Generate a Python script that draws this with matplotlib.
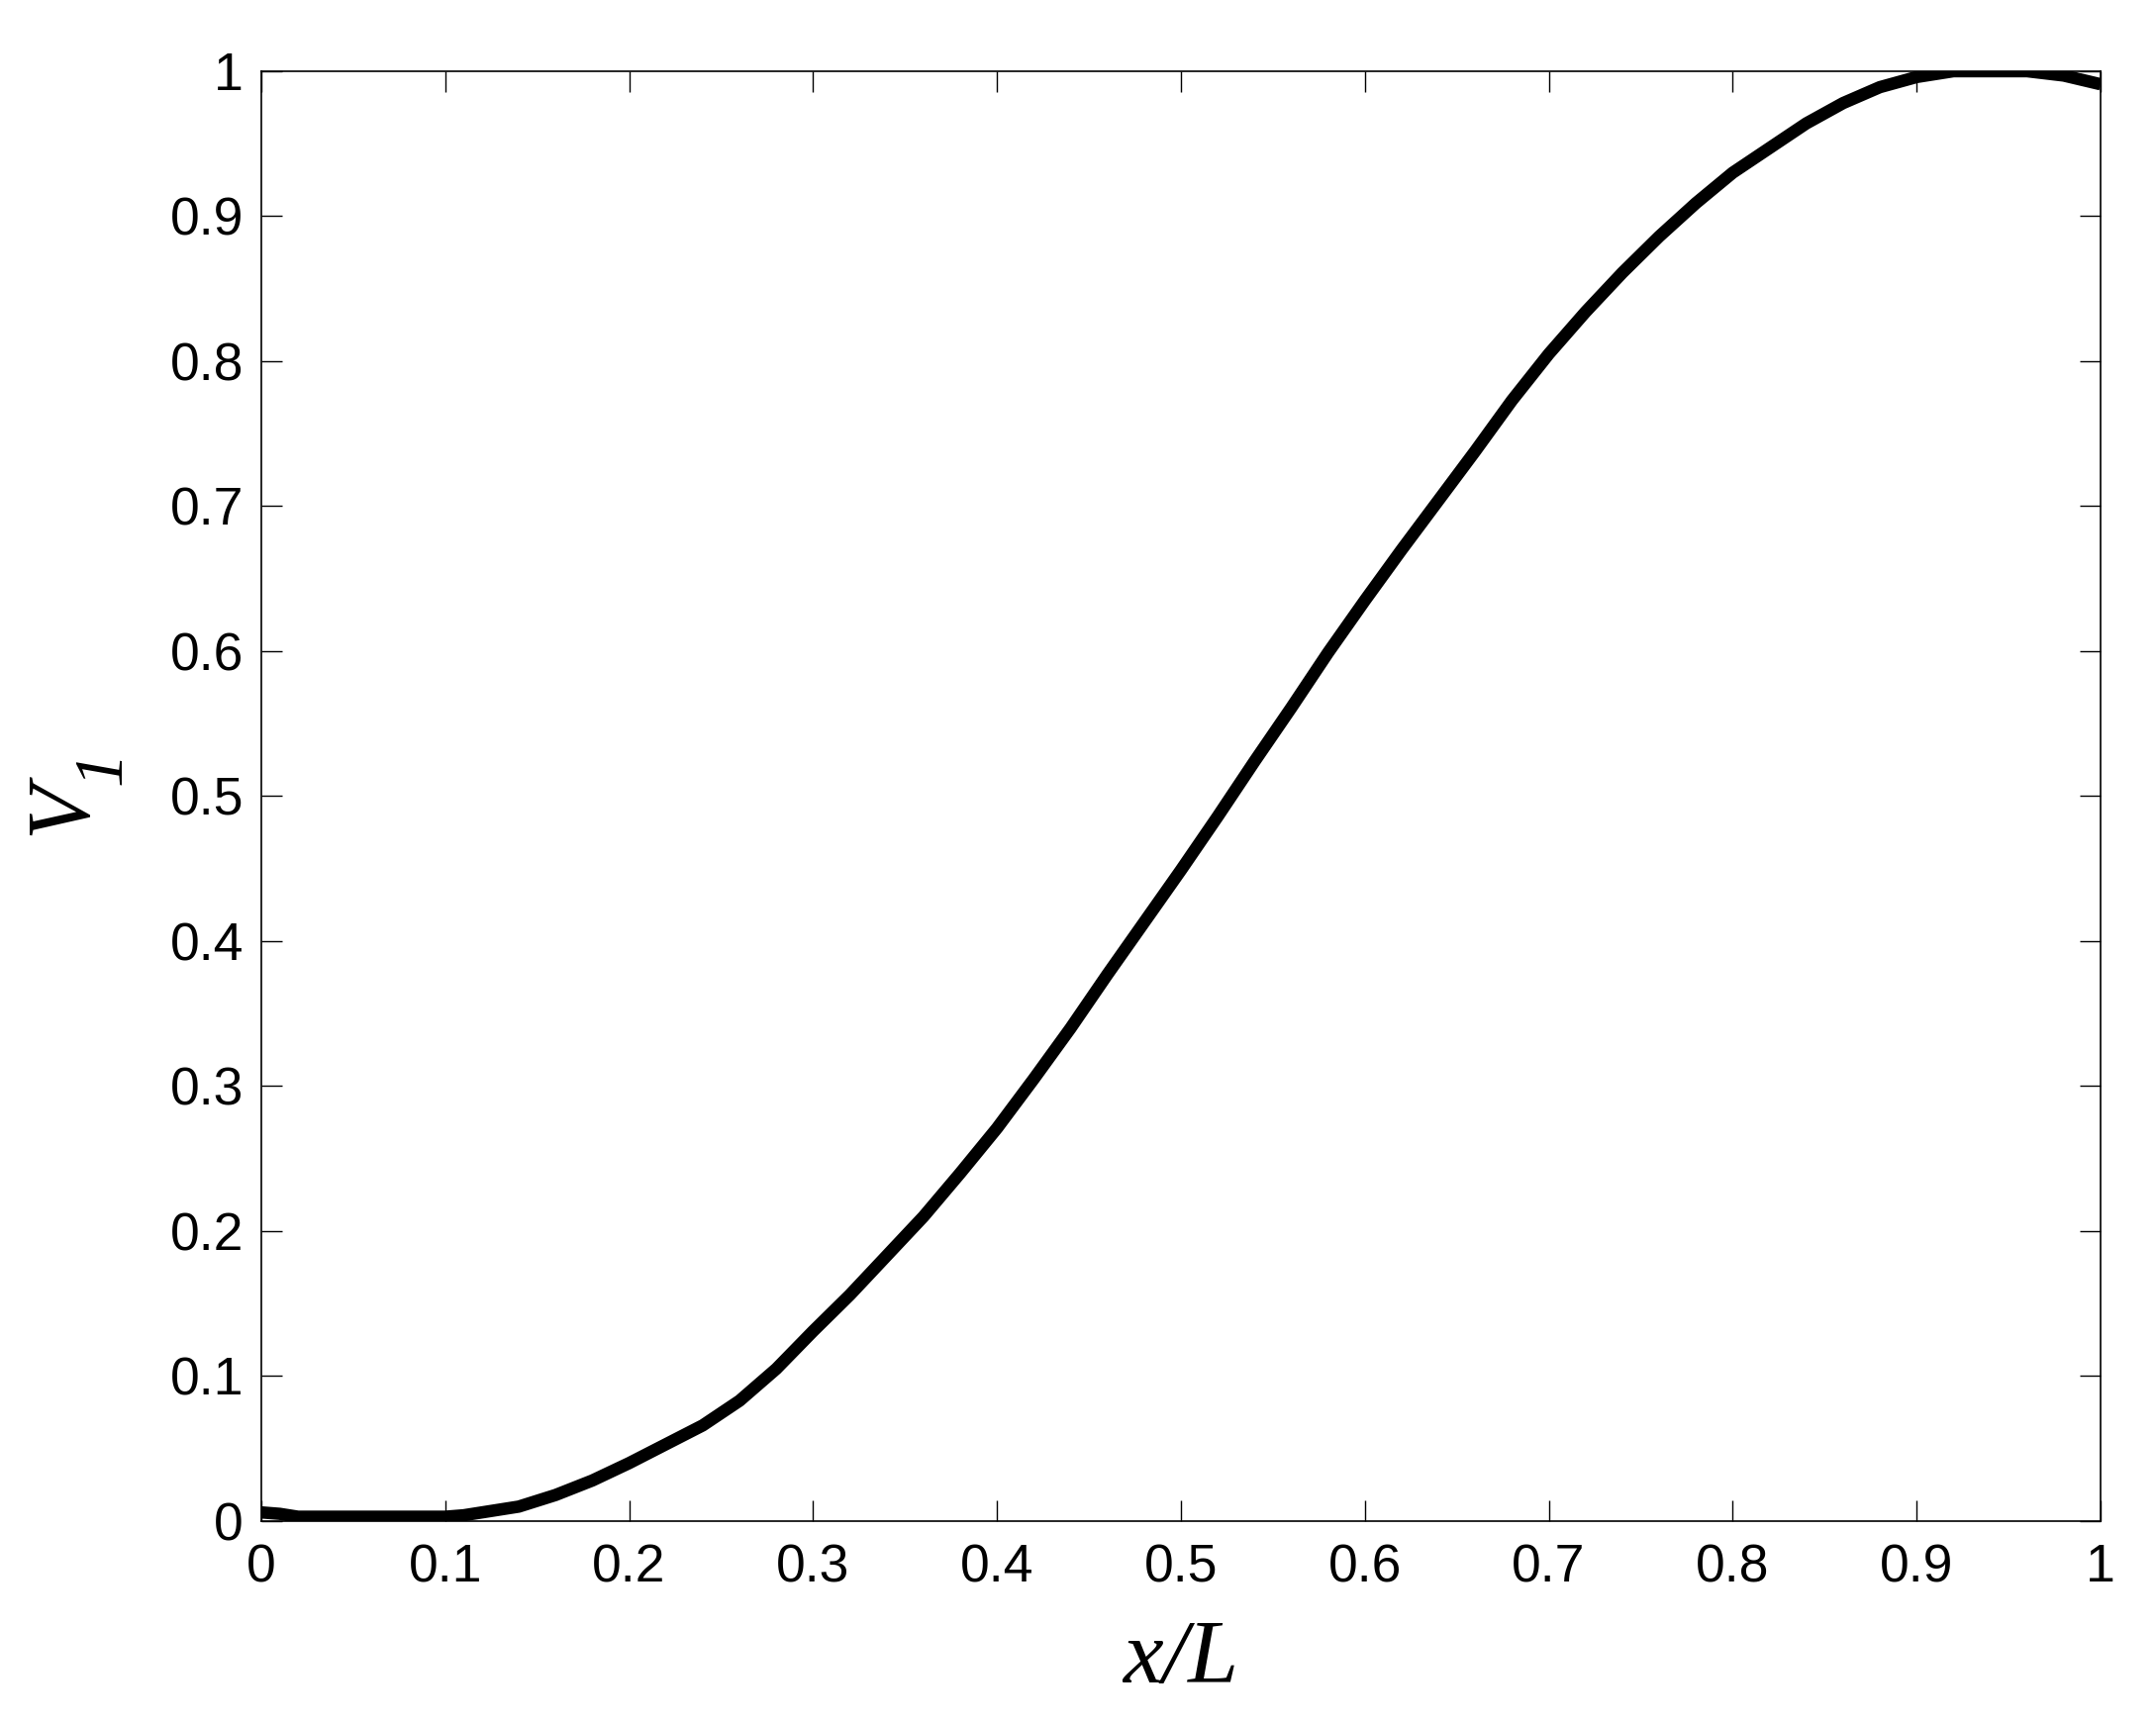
import matplotlib
matplotlib.use("Agg")
import matplotlib.pyplot as plt
from matplotlib.ticker import FixedLocator, FuncFormatter

# Data
x_vals = [0.0, 0.01, 0.02, 0.04, 0.06, 0.08, 0.10, 0.11, 0.12, 0.13, 0.14, 0.15, 0.16, 0.18,
          0.20, 0.22, 0.24, 0.26, 0.28, 0.30, 0.32, 0.34, 0.36, 0.38, 0.40,
          0.42, 0.44, 0.46, 0.48, 0.50, 0.52, 0.54, 0.56, 0.58, 0.60,
          0.62, 0.64, 0.66, 0.68, 0.70, 0.72, 0.74, 0.76, 0.78, 0.80,
          0.82, 0.84, 0.86, 0.88, 0.90, 0.92, 0.94, 0.96, 0.98, 1.00]
v1_vals = [0.006, 0.005, 0.003, 0.003, 0.003, 0.003, 0.003, 0.004, 0.006, 0.008, 0.010, 0.014, 0.018, 0.028,
           0.040, 0.053, 0.066, 0.083, 0.105, 0.131, 0.156, 0.183, 0.210, 0.240, 0.271,
           0.305, 0.340, 0.377, 0.413, 0.449, 0.486, 0.524, 0.561, 0.599, 0.635,
           0.670, 0.704, 0.738, 0.773, 0.805, 0.834, 0.861, 0.886, 0.909, 0.930,
           0.947, 0.964, 0.978, 0.989, 0.996, 1.000, 1.000, 1.000, 0.997, 0.991]

x_ticks = [0, 0.1, 0.2, 0.3, 0.4, 0.5, 0.6, 0.7, 0.8, 0.9, 1]
y_ticks = [0, 0.1, 0.2, 0.3, 0.4, 0.5, 0.6, 0.7, 0.8, 0.9, 1]
x_label = 'x/L'
y_label_main = 'V'
y_label_sub = '1'

fig = plt.figure(figsize=(21.78, 17.42), dpi=100)
ax = fig.add_axes([0.1212, 0.1177, 0.9743 - 0.1212, 0.9587 - 0.1177])

ax.plot(x_vals, v1_vals, color='black', linewidth=9, solid_joinstyle='round',
        solid_capstyle='butt', zorder=3)

ax.set_xlim(0, 1)
ax.set_ylim(0, 1)
fmt = FuncFormatter(lambda v, p: f"{v:g}")
ax.xaxis.set_major_locator(FixedLocator(x_ticks))
ax.yaxis.set_major_locator(FixedLocator(y_ticks))
ax.xaxis.set_major_formatter(fmt)
ax.yaxis.set_major_formatter(fmt)

ax.tick_params(direction='in', length=15, width=1.0, top=True, right=True,
               labelsize=38.5, colors='black')
ax.tick_params(axis='x', pad=16)
ax.tick_params(axis='y', pad=13)
for lbl in ax.get_xticklabels() + ax.get_yticklabels():
    lbl.set_fontfamily('Liberation Sans')
for s in ax.spines.values():
    s.set_linewidth(1.2)

ax.set_xlabel(x_label, fontsize=66, family='Liberation Serif', style='italic', labelpad=20)

# y label: italic V with a lowered italic subscript 1
ax.set_ylabel(y_label_main, fontsize=65, family='Liberation Serif', style='italic',
              rotation=90, rotation_mode='anchor', ha='center', va='baseline')
ax.yaxis.set_label_coords(-0.0959, 0.492)
ax.text(-0.0766, 0.520, y_label_sub, transform=ax.transAxes, fontsize=50,
        family='Liberation Serif', style='italic', rotation=90,
        rotation_mode='anchor', ha='center', va='baseline')

fig.savefig('out.png', dpi=100, facecolor='white')
